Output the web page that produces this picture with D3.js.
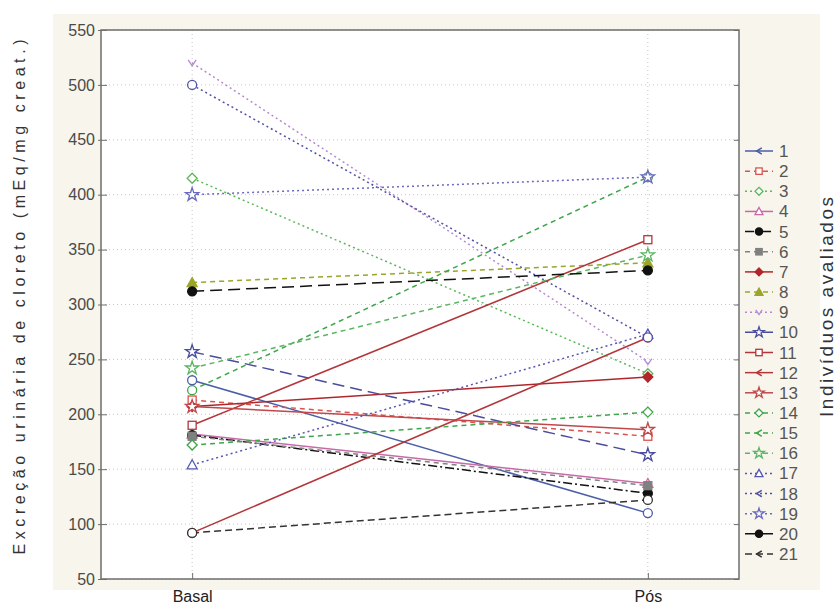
<!DOCTYPE html>
<html><head><meta charset="utf-8">
<script src="https://cdn.jsdelivr.net/npm/d3@7"></script>
<style>body{margin:0;background:#fff;} svg{display:block;}</style>
</head><body>
<svg id="c" width="839" height="608"></svg>
<script>
const categories = ["Basal", "Pós"];
const seriesNames = ["1","2","3","4","5","6","7","8","9","10","11","12","13","14","15","16","17","18","19","20","21"];
const basalValues = [231, 213, 415, 182, 181, 180, 207, 320, 520, 257, 190, 92, 207, 172, 222, 242, 154, 500, 400, 312, 92];
const posValues   = [110, 180, 237, 137, 128, 135, 234, 338, 248, 163, 359, 270, 186, 202, 416, 345, 273, 270, 416, 331, 122];
const yTicks = [50, 100, 150, 200, 250, 300, 350, 400, 450, 500, 550];
const yTitle = "Excreção urinária de cloreto (mEq/mg creat.)";
const legendTitle = "Indivíduos avaliados";

// styles per series (presentation only)
const colors = ["#4b5ea6","#d9534f","#5cb85c","#c76aa8","#111111","#808080","#b0262b","#9aa52a","#b58ad0","#4a4c9e",
                "#b2363a","#b2363a","#c0474a","#3ea64a","#3ea64a","#5bb562","#5656b4","#5050a8","#6a6ac0","#111111","#333333"];
const dashes = ["", "5,4", "2,3", "", "9,3,2,3", "5,4", "", "5,4", "2,3", "12,6",
                "", "", "", "5,4", "5,4", "5,4", "2,3", "2,3", "2,3", "12,6", "7,4"];
const markers = ["circle","square","diamond","tri","fcircle","fsquare","fdiamond","ftri","vee","star",
                 "square","circle","star","diamond","circle","star","tri","circle","star","fcircle","circle"];
const legendMarkers = ["chev","square","diamond","tri","fcircle","fsquare","fdiamond","ftri","vee","star",
                 "square","chev","star","diamond","chev","star","tri","chev","star","fcircle","chev"];

const svg = d3.select("#c");
const L = 101, R = 739, T = 30, B = 579;
const x = d3.scalePoint().domain(categories).range([L, R]).padding(0.2);
const y = d3.scaleLinear().domain([50, 550]).range([B, T]);

// beige panel
svg.append("rect").attr("x", 53).attr("y", 14).attr("width", 767).attr("height", 576).attr("fill", "#f8f5ec");
svg.append("rect").attr("x", L).attr("y", T).attr("width", R - L).attr("height", B - T).attr("fill", "#fff");

// grid
svg.append("g").selectAll("line").data(yTicks).join("line")
  .attr("x1", L).attr("x2", R).attr("y1", d => y(d)).attr("y2", d => y(d))
  .attr("stroke", "#c4c4c4").attr("stroke-width", 1).attr("stroke-dasharray", "1,3");
svg.append("g").selectAll("line").data(categories).join("line")
  .attr("x1", d => x(d)).attr("x2", d => x(d)).attr("y1", T).attr("y2", B)
  .attr("stroke", "#c4c4c4").attr("stroke-width", 1).attr("stroke-dasharray", "1,3");

// frame
svg.append("rect").attr("x", L).attr("y", T).attr("width", R - L).attr("height", B - T)
  .attr("fill", "none").attr("stroke", "#6e6e6e").attr("stroke-width", 1.5);

// y axis
const yAxis = d3.axisLeft(y).tickValues(yTicks).tickSize(4).tickPadding(4).tickFormat(d3.format("d"));
const gy = svg.append("g").attr("transform", `translate(${L},0)`).call(yAxis);
gy.select(".domain").remove();
gy.selectAll(".tick line").attr("stroke", "#6e6e6e").attr("x2", 6).attr("x1", -3);
gy.selectAll(".tick text").attr("font-family", "Liberation Sans, Arial, sans-serif").attr("font-size", 16).attr("fill", "#4a4a4a").attr("x", -6);
// right ticks
const gr = svg.append("g").attr("transform", `translate(${R},0)`).call(d3.axisRight(y).tickValues(yTicks).tickSize(0).tickFormat(""));
gr.select(".domain").remove();
gr.selectAll(".tick line").attr("stroke", "#6e6e6e").attr("x1", -5).attr("x2", 0);

// x axis
const gx = svg.append("g").attr("transform", `translate(0,${B})`).call(d3.axisBottom(x).tickSize(0).tickPadding(8));
gx.select(".domain").remove();
gx.selectAll(".tick text").attr("font-family", "Liberation Sans, Arial, sans-serif").attr("font-size", 16).attr("fill", "#222").attr("dy", "0.95em");
gx.selectAll(".tick").append("line").attr("y1", -6).attr("y2", 0).attr("stroke", "#6e6e6e");

// marker drawing
function drawMarker(g, type, cx, cy, color, k) {
  k = k || 1;
  const s = g.append("g").attr("transform", `translate(${cx},${cy}) scale(${k})`);
  const open = {fill: "#fff", stroke: color};
  const fill = {fill: color, stroke: color};
  function style(sel, o) { sel.attr("fill", o.fill).attr("stroke", o.stroke).attr("stroke-width", 1.3 / k); }
  switch (type) {
    case "circle": style(s.append("circle").attr("r", 4.5), open); break;
    case "fcircle": style(s.append("circle").attr("r", 4.5), fill); break;
    case "square": style(s.append("rect").attr("x", -4).attr("y", -4).attr("width", 8).attr("height", 8), open); break;
    case "fsquare": style(s.append("rect").attr("x", -4).attr("y", -4).attr("width", 8).attr("height", 8), fill); break;
    case "diamond": style(s.append("path").attr("d", "M0,-5L5,0L0,5L-5,0Z"), open); break;
    case "fdiamond": style(s.append("path").attr("d", "M0,-5L5,0L0,5L-5,0Z"), fill); break;
    case "tri": style(s.append("path").attr("d", "M0,-5L5,4L-5,4Z"), open); break;
    case "ftri": style(s.append("path").attr("d", "M0,-5L5,4L-5,4Z"), fill); break;
    case "vee": s.append("path").attr("d", "M-4,-3L0,3L4,-3").attr("fill", "none").attr("stroke", color).attr("stroke-width", 1.3 / k); break;
    case "star": style(s.append("path").attr("d", d3.symbol(d3.symbolStar, 55)()), open); break;
    case "chev": s.append("path").attr("d", "M3.5,-4L-3,0L3.5,4").attr("fill", "none").attr("stroke", color).attr("stroke-width", 1.5 / k); break;
  }
}

// series
const line = d3.line().x(d => x(d.c)).y(d => y(d.v));
const gl = svg.append("g");
seriesNames.forEach((n, i) => {
  const pts = [{c: categories[0], v: basalValues[i]}, {c: categories[1], v: posValues[i]}];
  gl.append("path").attr("d", line(pts)).attr("fill", "none")
    .attr("stroke", colors[i]).attr("stroke-width", 1.5).attr("stroke-dasharray", dashes[i] || null);
});
const gm = svg.append("g");
seriesNames.forEach((n, i) => {
  drawMarker(gm, markers[i], x(categories[0]), y(basalValues[i]), colors[i]);
  drawMarker(gm, markers[i], x(categories[1]), y(posValues[i]), colors[i]);
});

// legend
const lg = svg.append("g");
seriesNames.forEach((n, i) => {
  const ly = 151 + i * 20.15;
  lg.append("line").attr("x1", 745).attr("x2", 773).attr("y1", ly).attr("y2", ly)
    .attr("stroke", colors[i]).attr("stroke-width", 1.5).attr("stroke-dasharray", dashes[i] || null);
  drawMarker(lg, legendMarkers[i], 759, ly, colors[i], 0.8);
  lg.append("text").attr("x", 779).attr("y", ly + 6).text(n)
    .attr("font-family", "Liberation Sans, Arial, sans-serif").attr("font-size", 17).attr("fill", "#555");
});

// titles
svg.append("text").attr("transform", "translate(25,297) rotate(-90)").attr("text-anchor", "middle")
  .attr("font-family", "Liberation Sans, Arial, sans-serif").attr("font-size", 16).attr("fill", "#333")
  .attr("textLength", 515).attr("lengthAdjust", "spacing").text(yTitle);
svg.append("text").attr("transform", "translate(833,307) rotate(-90)").attr("text-anchor", "middle")
  .attr("font-family", "Liberation Sans, Arial, sans-serif").attr("font-size", 19).attr("fill", "#333")
  .attr("textLength", 220).attr("lengthAdjust", "spacing").text(legendTitle);
</script>
</body></html>
